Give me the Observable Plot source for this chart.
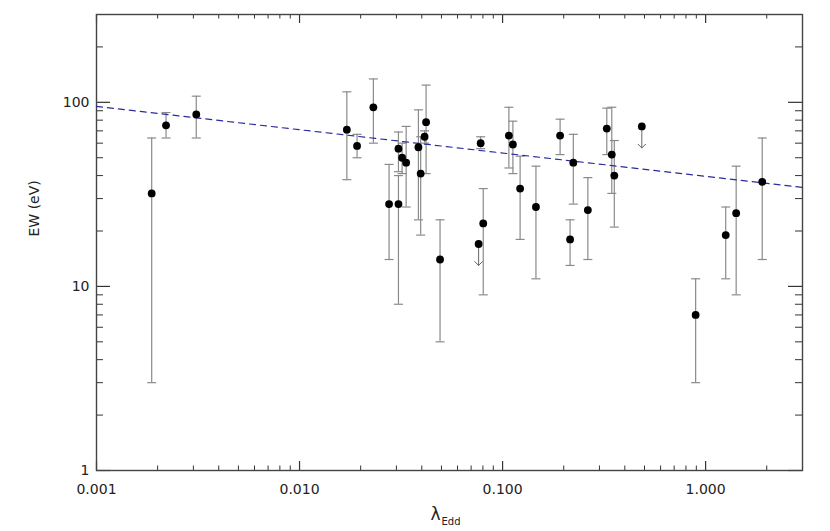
<!DOCTYPE html>
<html>
<head>
<meta charset="utf-8">
<script src="https://cdn.jsdelivr.net/npm/d3@7"></script>
<script src="https://cdn.jsdelivr.net/npm/@observablehq/plot@0.6"></script>
<style>
  html, body { margin: 0; padding: 0; background: #fff; }
  #chart svg { display: block; }
</style>
</head>
<body>
<div id="chart"></div>
<script>
// ---- data ----
const lambdaEdd = [0.00187, 0.0022, 0.0031, 0.0171, 0.0192, 0.0231, 0.0276, 0.0307, 0.0307, 0.032,
  0.0335, 0.0385, 0.0395, 0.0413, 0.042, 0.0492, 0.078, 0.0803, 0.1074, 0.1124,
  0.122, 0.146, 0.192, 0.215, 0.223, 0.263, 0.326, 0.345, 0.355, 0.893,
  1.256, 1.414, 1.9];
const ew = [32, 75, 86, 71, 58, 94, 28, 56, 28, 50,
  47, 57, 41, 65, 78, 14, 60, 22, 66, 59,
  34, 27, 66, 18, 47, 26, 72, 52, 40, 7,
  19, 25, 37];
const ewLow = [3, 64, 64, 38, 50, 60, 14, 42, 8, 41,
  27, 23, 19, 60, 41, 5, 56, 9, 44, 41,
  18, 11, 52, 13, 28, 14, 52, 32, 21, 3,
  11, 9, 14];
const ewHigh = [64, 88, 108, 114, 67, 134, 46, 69, 40, 60,
  74, 91, 65, 70, 124, 23, 65, 34, 94, 79,
  51, 45, 81, 23, 67, 39, 93, 94, 62, 11,
  27, 45, 64];

// upper limits (arrow pointing down)
const limLambda = [0.0762, 0.485];
const limEw = [17, 74];
const limTip = [13, 56.5];

// dashed fit line endpoints
const fitLambda = [0.001, 3];
const fitEw = [95, 34.5];

// axis ticks
const xTickValues = [0.001, 0.01, 0.1, 1];
const xTickLabels = ["0.001", "0.010", "0.100", "1.000"];
const yTickValues = [1, 10, 100];
const yTickLabels = ["1", "10", "100"];

// ---- build tables ----
const points = lambdaEdd.map((x, i) => ({x, y: ew[i], lo: ewLow[i], hi: ewHigh[i]}));
const limits = limLambda.map((x, i) => ({x, y: limEw[i], tip: limTip[i]}));
const fit = fitLambda.map((x, i) => ({x, y: fitEw[i]}));
const allDots = points.concat(limits);

const xDomain = [0.001, 3];
const yDomain = [1, 300];
const xMinor = [];
for (const d of [0.001, 0.01, 0.1, 1]) for (let k = 2; k <= 9; k++) { const v = d * k; if (v < xDomain[1] - 1e-9) xMinor.push(v); }
const yMinor = [];
for (const d of [1, 10, 100]) for (let k = 2; k <= 9; k++) { const v = d * k; if (v < yDomain[1] - 1e-9) yMinor.push(v); }

const W = 830, H = 531;
const mL = 96, mR = 28, mT = 14, mB = 61;
const pw = W - mL - mR, ph = H - mT - mB;
const xMajLen = 9, xMinLen = 4.5, yMajLen = 14, yMinLen = 7;

const capSymbol = {
  draw(context, size) {
    const r = Math.sqrt(size / Math.PI);
    context.moveTo(-r, 0);
    context.lineTo(r, 0);
  }
};

const tickColor = "#333";
const barColor = "#8a8a8a";

const plot = Plot.plot({
  width: W, height: H,
  marginLeft: mL, marginRight: mR, marginTop: mT, marginBottom: mB,
  style: {fontFamily: "DejaVu Sans, sans-serif", fontSize: "14px", color: "#333", background: "#fff"},
  x: {type: "log", domain: xDomain, axis: null},
  y: {type: "log", domain: yDomain, axis: null},
  marks: [
    // ticks (inward, all four sides)
    Plot.ruleX(xTickValues, {x: d => d, insetTop: ph - xMajLen, stroke: tickColor, strokeWidth: 1.2}),
    Plot.ruleX(xTickValues, {x: d => d, insetBottom: ph - xMajLen, stroke: tickColor, strokeWidth: 1.2}),
    Plot.ruleX(xMinor, {x: d => d, insetTop: ph - xMinLen, stroke: tickColor, strokeWidth: 1}),
    Plot.ruleX(xMinor, {x: d => d, insetBottom: ph - xMinLen, stroke: tickColor, strokeWidth: 1}),
    Plot.ruleY(yTickValues, {y: d => d, insetRight: pw - yMajLen, stroke: tickColor, strokeWidth: 1.2}),
    Plot.ruleY(yTickValues, {y: d => d, insetLeft: pw - yMajLen, stroke: tickColor, strokeWidth: 1.2}),
    Plot.ruleY(yMinor, {y: d => d, insetRight: pw - yMinLen, stroke: tickColor, strokeWidth: 1}),
    Plot.ruleY(yMinor, {y: d => d, insetLeft: pw - yMinLen, stroke: tickColor, strokeWidth: 1}),
    Plot.frame({stroke: "#444", strokeWidth: 1.4}),
    // tick labels
    Plot.axisX({ticks: xTickValues, tickFormat: d => xTickLabels[xTickValues.indexOf(d)], tickSize: 0, tickPadding: 14, fill: "#222", label: null}),
    Plot.axisY({ticks: yTickValues, tickFormat: d => yTickLabels[yTickValues.indexOf(d)], tickSize: 0, tickPadding: 7, fill: "#222", label: null}),
    // axis titles
    Plot.text(["EW (eV)"], {frameAnchor: "left", rotate: -90, dx: -62, dy: -6, fontSize: 14, fill: "#222"}),
    Plot.text(["λ"], {frameAnchor: "bottom", textAnchor: "start", dx: -19, dy: 49, fontSize: 17, fill: "#222"}),
    Plot.text(["Edd"], {frameAnchor: "bottom", textAnchor: "start", dx: -8, dy: 54, fontSize: 10, fill: "#222"}),
    // error bars
    Plot.ruleX(points, {x: "x", y1: "lo", y2: "hi", stroke: barColor, strokeWidth: 1.2}),
    Plot.dot(points, {x: "x", y: "lo", symbol: capSymbol, r: 4.5, stroke: barColor, strokeWidth: 1.2, fill: "none"}),
    Plot.dot(points, {x: "x", y: "hi", symbol: capSymbol, r: 4.5, stroke: barColor, strokeWidth: 1.2, fill: "none"}),
    // upper limits
    Plot.arrow(limits, {x1: "x", y1: "y", x2: "x", y2: "tip", headLength: 8, headAngle: 90, stroke: "#666", strokeWidth: 1}),
    // fit line
    Plot.line(fit, {x: "x", y: "y", stroke: "#2b2b9c", strokeWidth: 1.2, strokeDasharray: "6,5"}),
    // points
    Plot.dot(allDots, {x: "x", y: "y", r: 3.9, fill: "#000", stroke: "none"})
  ]
});

document.getElementById("chart").appendChild(plot);
</script>
</body>
</html>
